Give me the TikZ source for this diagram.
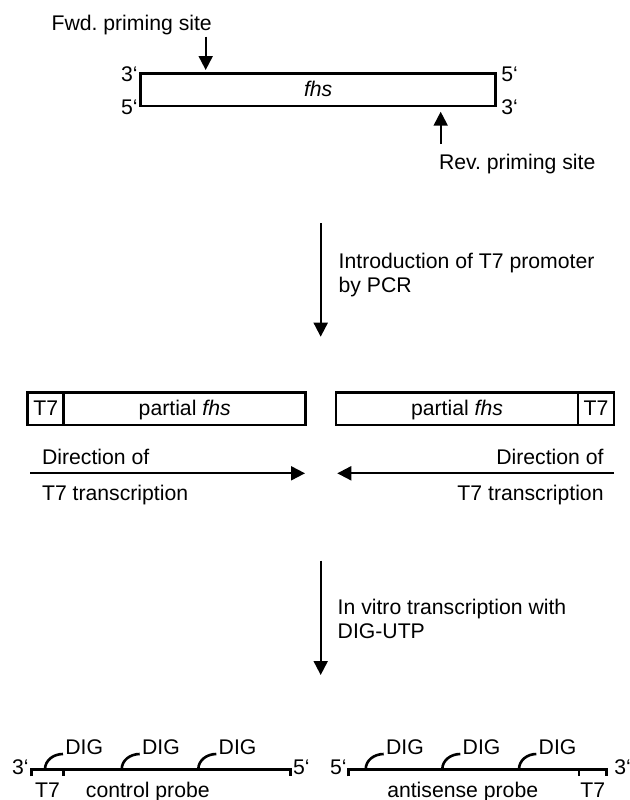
\documentclass[tikz,border=0pt]{standalone}
\usepackage{fontspec}
\setmainfont{Liberation Sans}
\usetikzlibrary{arrows.meta,positioning}
\frenchspacing

\tikzset{
  txt/.style={inner sep=0pt},
  dna/.style={draw, line width=1.3pt, inner sep=0pt, outer sep=0pt,
    minimum height=16.3pt, text height=0.72em, text depth=0pt},
  arr/.style={line width=1pt, -{Triangle[length=7pt,width=7pt]}},
  strand/.style={line width=1.3pt},
  hook/.style={line width=1.3pt},
}

\begin{document}
\begin{tikzpicture}[x=0.5pt, y=-0.5pt, font=\fontsize{10.6}{12}\selectfont]
  \useasboundingbox (0,0) rectangle (629,800);

  % gene with priming sites
  \node[dna, minimum width=177.5pt] (gene) at (318.2,89.5) {\itshape fhs};
  \node[txt, anchor=base east] (gl3) at (138,81) {3‘};
  \node[txt, anchor=base east] (gl5) at (138,114.3) {5‘};
  \node[txt, anchor=base west] (gr5) at (501,81) {5‘};
  \node[txt, anchor=base west] (gr3) at (501,114.8) {3‘};

  \node[txt, anchor=base] (fwd) at (131.7,30.3) {Fwd. priming site};
  \node[txt, anchor=base] (rev) at (517.2,169.3) {Rev. priming site};
  \coordinate (fwdtail) at (205.7,36.7);
  \coordinate (fwdtip) at (205.7,70);
  \coordinate (revtail) at (440.7,144);
  \coordinate (revtip) at (440.7,111.7);
  \draw[arr] (fwdtail) -- (fwdtip);
  \draw[arr] (revtail) -- (revtip);

  % PCR step
  \coordinate (pcr0) at (320.7,223.3);
  \coordinate (pcr1) at (320.7,336.7);
  \draw[arr] (pcr0) -- (pcr1);
  \node[txt, anchor=west, align=left] (pcrtext) at (338.3,274.8)
    {Introduction of T7 promoter\\by PCR};

  % templates with T7 promoter
  \node[dna, minimum width=18pt] (t7l) at (45.7,408.7) {T7};
  \node[dna, minimum width=121pt, right=0pt of t7l] (partl) {partial \textit{fhs}};
  \node[dna, minimum width=18pt] (t7r) at (596,408.7) {T7};
  \node[dna, minimum width=121pt, left=0pt of t7r] (partr) {partial \textit{fhs}};

  \coordinate (dirl0) at (30,473.3);
  \coordinate (dirl1) at (305,473.3);
  \coordinate (dirr0) at (614,473.3);
  \coordinate (dirr1) at (337.3,473.3);
  \draw[arr] (dirl0) -- (dirl1);
  \draw[arr] (dirr0) -- (dirr1);
  \node[txt, anchor=base west] (dirla) at (41.7,464.8) {Direction of};
  \node[txt, anchor=base west] (dirlb) at (41.7,500.7) {T7 transcription};
  \node[txt, anchor=base east] (dirra) at (604,464.8) {Direction of};
  \node[txt, anchor=base east] (dirrb) at (604,500.7) {T7 transcription};

  % transcription step
  \coordinate (ivt0) at (320.7,560.7);
  \coordinate (ivt1) at (320.7,675);
  \draw[arr] (ivt0) -- (ivt1);
  \node[txt, anchor=west, align=left] (ivttext) at (337.3,618.5)
    {In vitro transcription with\\DIG-UTP};

  % control probe
  \coordinate (c0) at (31.7,769.3);
  \coordinate (c1) at (63.3,769.3);
  \coordinate (c2) at (290.7,769.3);
  \draw[strand] (c0) ++(0,7) -- (c0) -- (c2) -- ++(0,7);
  \draw[strand] (c1) -- ++(0,7);
  \node[txt, anchor=base east] (c3p) at (29,774) {3‘};
  \node[txt, anchor=base west] (c5p) at (292.7,774) {5‘};
  \node[txt, anchor=base] (ct7) at (47.5,797) {T7};
  \node[txt, anchor=base] (cname) at (147.8,797) {control probe};

  \node[txt, anchor=base west] (cdig1) at (65,754) {DIG};
  \node[txt, anchor=base west] (cdig2) at (141.7,754) {DIG};
  \node[txt, anchor=base west] (cdig3) at (218.3,754) {DIG};
  \draw[hook] (45,769.3) to[out=90,in=180] ([xshift=-1pt]cdig1.base west);
  \draw[hook] (121.7,769.3) to[out=90,in=180] ([xshift=-1pt]cdig2.base west);
  \draw[hook] (198.3,769.3) to[out=90,in=180] ([xshift=-1pt]cdig3.base west);

  % antisense probe
  \coordinate (a0) at (348.3,769.3);
  \coordinate (a1) at (579,769.3);
  \coordinate (a2) at (606.7,769.3);
  \draw[strand] (a0) ++(0,7) -- (a0) -- (a2) -- ++(0,7);
  \draw[strand] (a1) -- ++(0,7);
  \node[txt, anchor=base east] (a5p) at (347,774) {5‘};
  \node[txt, anchor=base west] (a3p) at (614,774) {3‘};
  \node[txt, anchor=base] (aname) at (462.7,797) {antisense probe};
  \node[txt, anchor=base] (at7) at (592.8,797) {T7};

  \node[txt, anchor=base west] (adig1) at (385.7,754) {DIG};
  \node[txt, anchor=base west] (adig2) at (462.3,754) {DIG};
  \node[txt, anchor=base west] (adig3) at (538.3,754) {DIG};
  \draw[hook] (365.7,769.3) to[out=90,in=180] ([xshift=-1pt]adig1.base west);
  \draw[hook] (442.3,769.3) to[out=90,in=180] ([xshift=-1pt]adig2.base west);
  \draw[hook] (519,769.3) to[out=90,in=180] ([xshift=-1pt]adig3.base west);
\end{tikzpicture}
\end{document}
